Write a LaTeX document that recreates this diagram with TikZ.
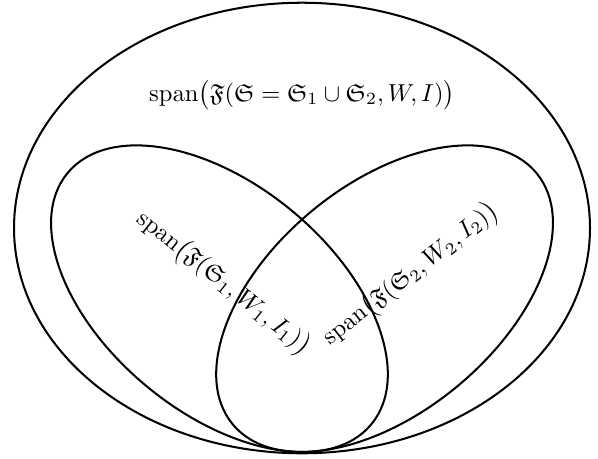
\documentclass[tikz,border=0pt]{standalone}
\usepackage{amssymb}
\begin{document}
\begin{tikzpicture}[line width=0.9pt,
  lbl/.style={inner sep=0pt, scale=1.09}]
\useasboundingbox (-4.719,-3.609) rectangle (4.625,3.5625);
\draw (0,0) ellipse (4.5cm and 3.52cm);
\draw[rotate around={-39.6:(-1.29,-1.104)}] (-1.29,-1.104) ellipse (3.08cm and 1.78cm);
\draw[rotate around={39.6:(1.29,-1.104)}] (1.29,-1.104) ellipse (3.08cm and 1.78cm);
\node[lbl] (all) at (0,2.08) {$\mathrm{span}\big(\mathfrak{F}(\mathfrak{S}=\mathfrak{S}_1\cup\mathfrak{S}_2,W,I)\big)$};
\node[lbl, rotate=-38.5] (one) at (-1.23,-0.86) {$\mathrm{span}\big(\mathfrak{F}(\mathfrak{S}_1,W_1,I_1)\big)$};
\node[lbl, rotate=38] (two) at (1.70,-0.73) {$\mathrm{span}\big(\mathfrak{F}(\mathfrak{S}_2,W_2,I_2)\big)$};
\end{tikzpicture}
\end{document}
